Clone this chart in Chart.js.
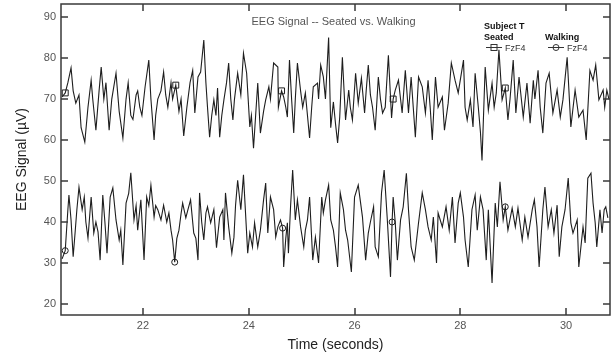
<!DOCTYPE html>
<html>
<head>
<meta charset="utf-8">
<script src="https://cdn.jsdelivr.net/npm/chart.js@4.4.0/dist/chart.umd.min.js"></script>
<style>
  html, body { margin: 0; padding: 0; background: #fff; }
</style>
</head>
<body>
<canvas id="eegChart" width="616" height="354"></canvas>
<script>
// EEG trace (time in s, amplitude in µV)
const seatedTime = [
    20.47,20.53,20.58,20.64,20.68,20.73,20.79,20.83,20.90,20.96,
    21.02,21.05,21.11,21.17,21.21,21.26,21.30,21.36,21.41,21.49,
    21.55,21.62,21.68,21.72,21.77,21.81,21.87,21.90,21.94,21.98,
    22.04,22.11,22.15,22.21,22.24,22.28,22.34,22.39,22.43,22.47,
    22.53,22.56,22.62,22.68,22.72,22.77,22.83,22.89,22.94,22.98,
    23.04,23.09,23.15,23.19,23.22,23.26,23.30,23.34,23.38,23.41,
    23.45,23.49,23.53,23.58,23.62,23.66,23.70,23.73,23.79,23.85,
    23.90,23.96,24.02,24.05,24.09,24.13,24.17,24.22,24.28,24.32,
    24.38,24.41,24.47,24.55,24.56,24.62,24.66,24.70,24.73,24.77,
    24.81,24.85,24.88,24.92,24.98,25.02,25.07,25.11,25.15,25.19,
    25.22,25.30,25.32,25.36,25.41,25.45,25.51,25.55,25.60,25.64,
    25.68,25.72,25.77,25.83,25.89,25.92,25.96,26.02,26.07,26.13,
    26.19,26.22,26.26,26.30,26.34,26.39,26.45,26.49,26.53,26.58,
    26.64,26.70,26.73,26.77,26.83,26.87,26.90,26.96,27.02,27.07,
    27.11,27.15,27.21,27.28,27.34,27.39,27.43,27.47,27.53,27.58,
    27.66,27.70,27.77,27.83,27.90,27.96,28.06,28.09,28.13,28.19,
    28.24,28.28,28.34,28.38,28.41,28.47,28.53,28.60,28.64,28.68,
    28.73,28.79,28.85,28.90,28.94,29.00,29.05,29.11,29.19,29.26,
    29.32,29.38,29.41,29.47,29.51,29.56,29.62,29.68,29.75,29.83,
    29.89,29.94,29.98,30.02,30.09,30.17,30.24,30.32,30.38,30.45,
    30.51,30.56,30.62,30.70,30.73,30.77,30.81
];
const seatedValues = [
    70.5,71.5,74,77.6,72,69,71,63,59.5,68,
    74.6,70,62.4,72,77.8,70,74,62.4,70,76.3,
    67,60.5,70,74,66,65,71,72,68,66,
    73,79.5,70,60,66,70,72,76.6,71,68,
    74,70,73.4,67,70,61,68,74,77,66.6,
    75.4,76.6,84.4,73.9,68,60.7,66,69.8,66,72.7,
    60.7,66,69.8,74,78.8,70,64.9,70,76.3,71,
    81.2,76.3,63.2,66,58,66,73.9,61.7,67,69.8,
    73,70,78.8,77.8,68,72,70.5,68,65.6,79.5,
    70,61.7,70,78.8,72,68,71.5,66,60.5,68,
    73,73.9,70,78.3,75.4,70,85,63,69.3,64,
    59.3,65.6,80.2,64.9,72.2,68,64.9,76.3,69,75.1,
    66.6,72,78.3,71,68,62.4,75.4,70,66.6,68,
    80.7,65.4,70,72.2,74.6,70,66.6,77,66.6,75.4,
    68,60.7,75.4,73,66.6,74.6,68,60,75.4,68,
    70.5,62.4,69,78.8,74.6,71.5,79.5,68,64.9,69.8,
    63.2,76.3,68,62,55,77.8,67.3,73.9,68,71.5,
    82,69.8,72.7,64.9,70,79.5,66.6,75.4,65.6,73.9,
    64.1,74.6,70,77,68,61.7,73.9,76.3,66.6,72.2,
    65.6,69.8,75,80.2,63.2,72.2,65.6,67.3,60,77,
    74.6,78.3,69.8,72.2,68,72.2,70
];
const walkingTime = [
    20.47,20.53,20.58,20.60,20.64,20.68,20.72,20.75,20.79,20.85,
    20.89,20.92,20.96,21.02,21.07,21.11,21.15,21.19,21.24,21.28,
    21.32,21.38,21.43,21.49,21.55,21.58,21.62,21.68,21.73,21.77,
    21.83,21.87,21.90,21.96,22.02,22.07,22.11,22.15,22.21,22.24,
    22.28,22.34,22.39,22.45,22.49,22.53,22.56,22.60,22.64,22.68,
    22.72,22.75,22.81,22.85,22.90,22.96,23.00,23.04,23.07,23.11,
    23.15,23.19,23.22,23.28,23.34,23.39,23.45,23.51,23.53,23.56,
    23.62,23.68,23.72,23.75,23.79,23.85,23.90,23.98,24.02,24.07,
    24.11,24.17,24.22,24.28,24.32,24.36,24.41,24.47,24.51,24.55,
    24.60,24.64,24.66,24.70,24.73,24.75,24.79,24.83,24.88,24.92,24.98,
    25.04,25.07,25.11,25.15,25.21,25.26,25.32,25.38,25.41,25.45,
    25.51,25.55,25.60,25.64,25.68,25.73,25.79,25.83,25.87,25.94,
    26.00,26.07,26.15,26.21,26.26,26.30,26.36,26.39,26.45,26.51,
    26.56,26.62,26.68,26.71,26.73,26.77,26.81,26.87,26.92,26.98,27.02,
    27.07,27.13,27.21,27.28,27.34,27.39,27.45,27.49,27.55,27.58,
    27.66,27.73,27.79,27.85,27.90,27.96,28.00,28.06,28.09,28.15,
    28.22,28.28,28.32,28.38,28.43,28.49,28.53,28.60,28.66,28.70,
    28.75,28.81,28.85,28.90,28.98,29.04,29.09,29.17,29.22,29.28,
    29.36,29.40,29.45,29.49,29.56,29.60,29.66,29.72,29.77,29.83,
    29.87,29.92,29.98,30.04,30.09,30.13,30.21,30.24,30.32,30.36,
    30.41,30.47,30.51,30.55,30.58,30.64,30.68,30.72,30.75,30.79
];
const walkingValues = [
    31,33,43,46.6,40.5,31.5,38,43,48.5,43,
    46.1,40,36.1,46.1,37.3,40,37.6,30.7,46.6,40,
    32.4,46.1,48.3,40.5,35.6,38,29.5,44.6,47,52,
    40.5,44,38,45.4,30.7,46.1,44,49,41.2,44,
    43,40.5,44.1,40,42.2,38,35.6,30.2,36,38,
    42,44.6,41,43,45.4,37.3,36,30.7,47.1,40,
    35.6,42.2,43.7,39.8,43,33.7,41.2,43,35.6,47.1,
    38.8,32.4,36.3,44,50.2,43,51.5,32.4,37.3,33.9,
    39.8,33.9,38,45.4,49.5,37.3,46.1,43,36.3,38.8,
    40.5,38.5,29,36,39.8,32.4,43.7,52.7,40.5,45.4,38.8,
    33.9,38,40.5,46.1,30.7,36.3,30,46.1,42.2,45.4,
    49,40.5,38,34,29,47.1,43,38,35.6,27.8,
    46.1,49,41.2,30.7,37.3,40,43.7,33.9,31.5,47.1,
    52.7,40.5,26.6,40,46.1,39.8,30.7,40.5,43.7,51.9,43,
    33.9,30.7,39.8,47.1,43,38.8,35.6,41.2,30,42.2,
    38.8,43.7,38,46.1,34.9,44.6,47.1,41.2,35.6,29,
    43,46.6,38,46.1,43,30.7,43,25.1,44.6,38.8,
    49.8,40.5,43.7,38,43.4,38.8,43.4,35.6,41.2,36.3,
    43,45.4,38.8,29,43,48.5,38.8,43,37.3,44.1,
    31.5,38.8,43,50.7,39.8,37.3,40.5,29,38.8,34.9,
    50.7,51.9,44.6,39.8,33.9,43,37.3,43,43.7,41
];
// symbol positions along the traces (s)
const markerTimes = [20.53, 22.60, 24.64, 26.72, 28.84];
const xTicks = [22, 24, 26, 28, 30];
const yTicks = [20, 30, 40, 50, 60, 70, 80, 90];

const chartTitle = 'EEG Signal -- Seated vs. Walking';
const FONT = "'Liberation Sans', Arial, sans-serif";
const LINE = '#1e1e1e';
const FRAME = '#3a3a3a';

function toPoints(times, values) {
    return times.map((t, i) => ({ x: t, y: values[i] }));
}

function markerIndexes(times) {
    const idx = new Set();
    markerTimes.forEach(m => {
        let best = 0;
        times.forEach((t, i) => { if (Math.abs(t - m) < Math.abs(times[best] - m)) best = i; });
        idx.add(best);
    });
    return idx;
}

const seatedMarks = markerIndexes(seatedTime);
const walkingMarks = markerIndexes(walkingTime);

// Frame, inward ticks, title and legend
const decorPlugin = {
    id: 'decor',
    afterDraw(chart) {
        const { ctx, chartArea: a, scales: { x, y } } = chart;
        ctx.save();
        ctx.strokeStyle = FRAME;
        ctx.lineWidth = 1.5;
        ctx.strokeRect(a.left, a.top, a.right - a.left, a.bottom - a.top);

        ctx.beginPath();
        xTicks.forEach(v => {
            const px = Math.round(x.getPixelForValue(v));
            ctx.moveTo(px, a.bottom); ctx.lineTo(px, a.bottom - 7);
            ctx.moveTo(px, a.top); ctx.lineTo(px, a.top + 7);
        });
        yTicks.forEach(v => {
            const py = Math.round(y.getPixelForValue(v));
            ctx.moveTo(a.left, py); ctx.lineTo(a.left + 7, py);
            ctx.moveTo(a.right, py); ctx.lineTo(a.right - 7, py);
        });
        ctx.stroke();

        ctx.fillStyle = '#555';
        ctx.font = `11px ${FONT}`;
        ctx.textAlign = 'center';
        ctx.textBaseline = 'middle';
        ctx.fillText(chartTitle, (a.left + a.right) / 2 - 2, 22);

        // legend
        ctx.fillStyle = '#111';
        ctx.textAlign = 'left';
        ctx.textBaseline = 'alphabetic';
        ctx.font = `bold 9px ${FONT}`;
        ctx.fillText('Subject T', 484, 29);
        ctx.fillText('Seated', 484, 40);
        ctx.fillText('Walking', 545, 40);

        ctx.strokeStyle = '#333';
        ctx.lineWidth = 1;
        ctx.beginPath();
        ctx.moveTo(486, 47.5); ctx.lineTo(502, 47.5);
        ctx.moveTo(548, 47.5); ctx.lineTo(564, 47.5);
        ctx.stroke();
        ctx.strokeRect(491, 44.5, 6, 6);
        ctx.beginPath();
        ctx.arc(556, 47.5, 3, 0, Math.PI * 2);
        ctx.stroke();

        ctx.fillStyle = '#333';
        ctx.font = `9px ${FONT}`;
        ctx.fillText('FzF4', 505, 51);
        ctx.fillText('FzF4', 567, 51);
        ctx.restore();
    }
};

const ctx = document.getElementById('eegChart').getContext('2d');
new Chart(ctx, {
    type: 'line',
    data: {
        datasets: [
            {
                label: 'Seated FzF4',
                data: toPoints(seatedTime, seatedValues),
                borderColor: LINE,
                borderWidth: 1.1,
                tension: 0,
                pointStyle: 'rect',
                pointRadius: c => seatedMarks.has(c.dataIndex) ? 4.2 : 0,
                pointBorderColor: LINE,
                pointBackgroundColor: 'rgba(0,0,0,0)',
                pointBorderWidth: 1
            },
            {
                label: 'Walking FzF4',
                data: toPoints(walkingTime, walkingValues),
                borderColor: LINE,
                borderWidth: 1.1,
                tension: 0,
                pointStyle: 'circle',
                pointRadius: c => walkingMarks.has(c.dataIndex) ? 3 : 0,
                pointBorderColor: LINE,
                pointBackgroundColor: 'rgba(0,0,0,0)',
                pointBorderWidth: 1
            }
        ]
    },
    options: {
        responsive: false,
        animation: false,
        devicePixelRatio: 1,
        layout: { padding: { left: 0, top: 4, right: 6, bottom: 0 } },
        plugins: { legend: { display: false }, tooltip: { enabled: false } },
        scales: {
            x: {
                type: 'linear',
                min: 20.45,
                max: 30.83,
                afterBuildTicks: s => { s.ticks = xTicks.map(v => ({ value: v })); },
                afterFit: s => { s.height = 39; s.paddingLeft = 0; s.paddingRight = 0; },
                grid: { display: false, drawTicks: false },
                border: { display: false },
                ticks: { color: '#555', font: { family: FONT, size: 11 }, padding: 4 },
                title: {
                    display: true, text: 'Time (seconds)', color: '#222',
                    font: { family: FONT, size: 14 }, padding: { top: 0, bottom: 0 }
                }
            },
            y: {
                min: 17.3,
                max: 93.2,
                afterBuildTicks: s => { s.ticks = yTicks.map(v => ({ value: v })); },
                afterFit: s => { s.width = 61; s.paddingTop = 0; s.paddingBottom = 0; },
                grid: { display: false, drawTicks: false },
                border: { display: false },
                ticks: { color: '#555', font: { family: FONT, size: 11 }, padding: 5 },
                title: {
                    display: true, text: 'EEG Signal (µV)', color: '#222',
                    font: { family: FONT, size: 14 }, padding: { top: 14, bottom: 0 }
                }
            }
        }
    },
    plugins: [decorPlugin]
});
</script>
</body>
</html>
